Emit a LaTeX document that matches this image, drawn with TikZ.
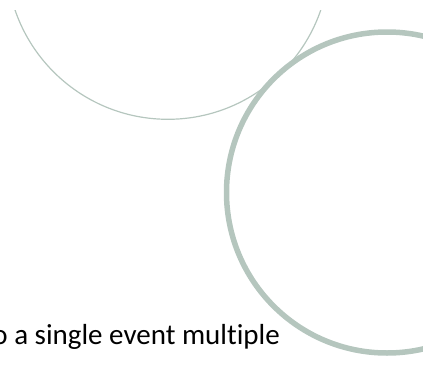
\documentclass[tikz,border=0pt]{standalone}
\usepackage{fontspec}
\setmainfont{Carlito}[Ligatures={NoCommon}]

\definecolor{ringgray}{RGB}{181,198,190}

\begin{document}
\begin{tikzpicture}[x=1pt,y=-1pt]

    % Fix the frame of the picture
    \useasboundingbox (0,0) rectangle (423,367);
    \clip (0,10) rectangle (423,367);

    % Define the centres of the two rings
    \coordinate (T) at (167.9,-42.2);
    \coordinate (R) at (387,192.5);

    % Draw the thin ring at the top
    \draw[ringgray, line width=1.2pt] (T) circle[radius=161.5pt];

    % Draw the thick ring on the right
    \draw[ringgray, line width=5.5pt] (R) circle[radius=160.5pt];

    % Place the text line at the bottom
    \node[anchor=base east, inner sep=0pt, font=\fontsize{29}{34}\selectfont] (line) at (280,344) {o a single event multiple};

\end{tikzpicture}
\end{document}
